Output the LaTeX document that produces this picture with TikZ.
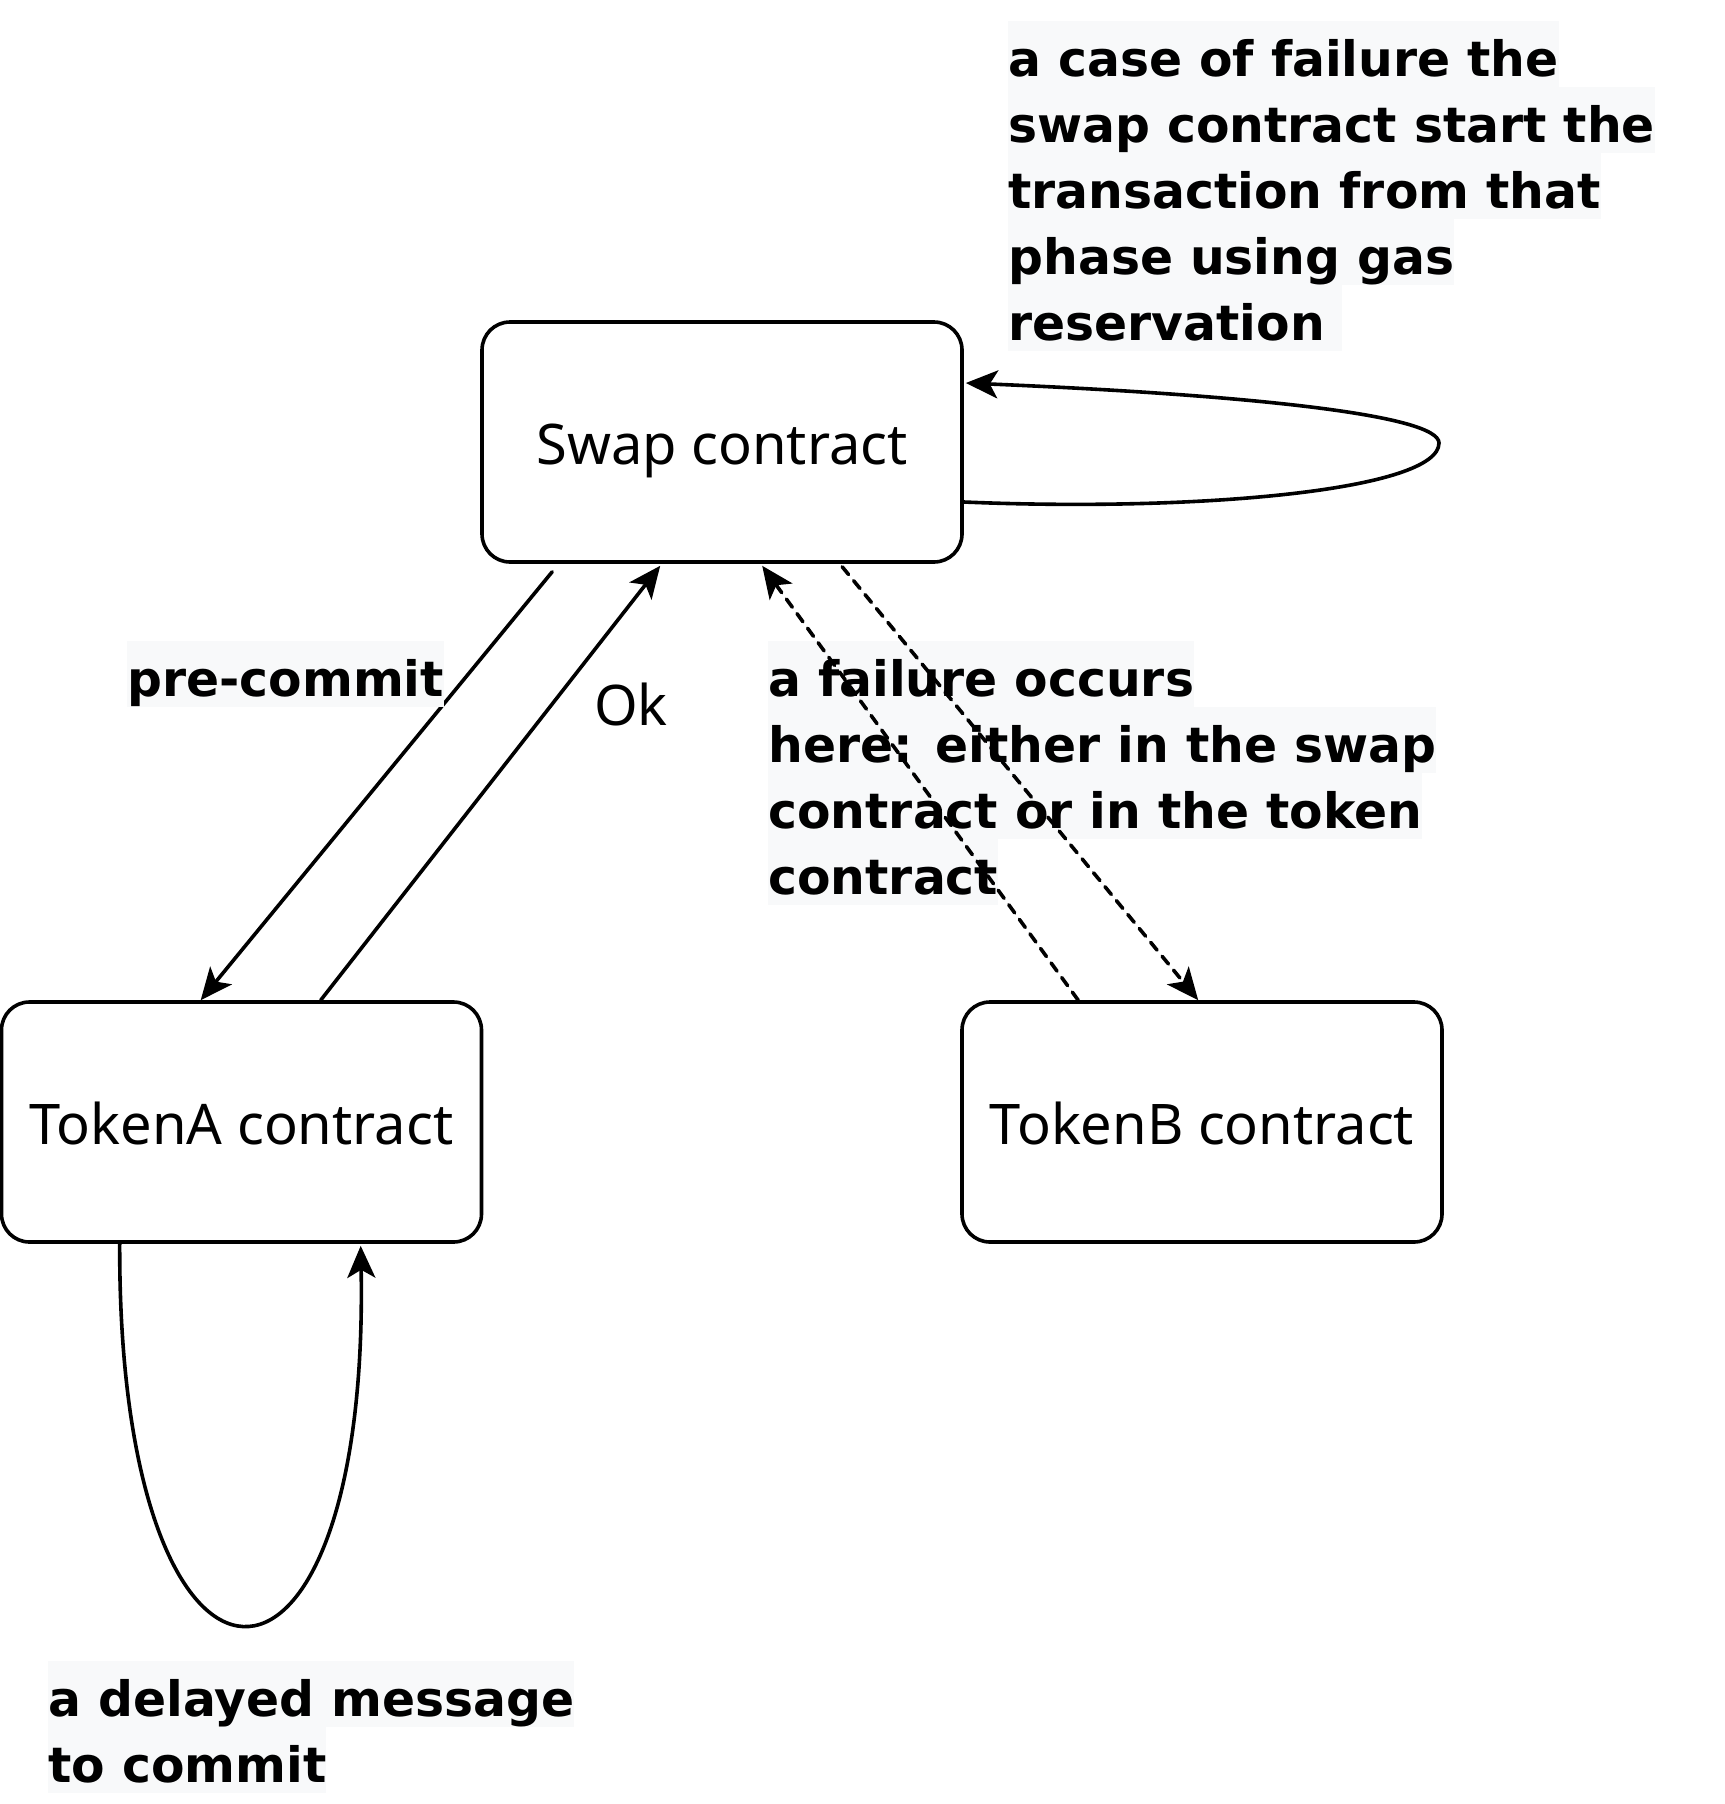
\documentclass[tikz,border=0pt]{standalone}
\usepackage{fontspec}
\setmainfont{Noto Sans}
\newfontfamily\lblfont{DejaVu Sans}
\usetikzlibrary{arrows.meta,calc}
\definecolor{lblbg}{HTML}{F8F9FA}
\newcommand{\hlbox}[1]{{\setlength{\fboxsep}{0pt}\colorbox{lblbg}{\rule[-5.5pt]{0pt}{33pt}#1}}}

\begin{document}
\begin{tikzpicture}[x=0.5pt,y=-0.5pt,line cap=round,line join=round,
  box/.style={draw,line width=1.8pt,rounded corners=14pt,minimum width=240pt,minimum height=120pt,inner sep=0pt,
    text height=29pt,text depth=7pt,font=\fontsize{28}{32}\selectfont},
  lbl/.style={inner sep=0pt,align=left,anchor=north west,font=\lblfont\fontsize{24.4}{33}\selectfont\bfseries},
  link/.style={line width=1.8pt},
  tip/.style={-{Stealth[length=16pt,width=14pt,inset=4pt]}}]
 \useasboundingbox (0,0) rectangle (1724,1804);
 \node[box] (swap) at (722,442) {Swap contract};
 \node[box] (tokA) at (241.5,1122) {TokenA contract};
 \node[box] (tokB) at (1202,1122) {TokenB contract};
 % labels under the failure path
 \node[lbl] (occurs) at (768,641) {\hlbox{a failure occurs}\\\hlbox{here: either in the swap}\\\hlbox{contract or in the token}\\\hlbox{contract}};
 \draw[link,tip] ($(swap.south west)+(72,8)$) -- ($(tokA.north west)+(201,0)$);
 \draw[link,tip] ($(tokA.north west)+(321,0)$) -- ($(swap.south west)+(180,2)$);
 \draw[link,tip,dashed,dash pattern=on 5pt off 4pt] ($(tokB.north west)+(118,0)$) -- ($(swap.south west)+(282,2)$);
 \draw[link,tip,dashed,dash pattern=on 5pt off 4pt] ($(swap.south west)+(362,3)$) -- ($(tokB.north west)+(238,0)$);
 \draw[link,tip] ($(swap.east)+(0,60)$) .. controls (1200,512) and (1439,490) .. (1439,443)
  .. controls (1439,415) and (1250,395) .. ($(swap.east)+(2,-59)$);
 \draw[link,tip] ($(tokA.south west)+(120,0)$) .. controls (118,1750) and (370,1750) .. ($(tokA.south west)+(361,2)$);
 \node[lbl] (precommit) at (127,641) {\hlbox{pre-commit}};
 \node[font=\fontsize{28}{32}\selectfont] (ok) at (631,704) {Ok};
 \node[lbl] (gasres) at (1008,21) {\hlbox{a case of failure the}\\\hlbox{swap contract start the}\\\hlbox{transaction from that}\\\hlbox{phase using gas}\\\hlbox{reservation\ }};
 \node[lbl] (delayed) at (48,1661) {\hlbox{a delayed message}\\\hlbox{to commit}};
\end{tikzpicture}
\end{document}
